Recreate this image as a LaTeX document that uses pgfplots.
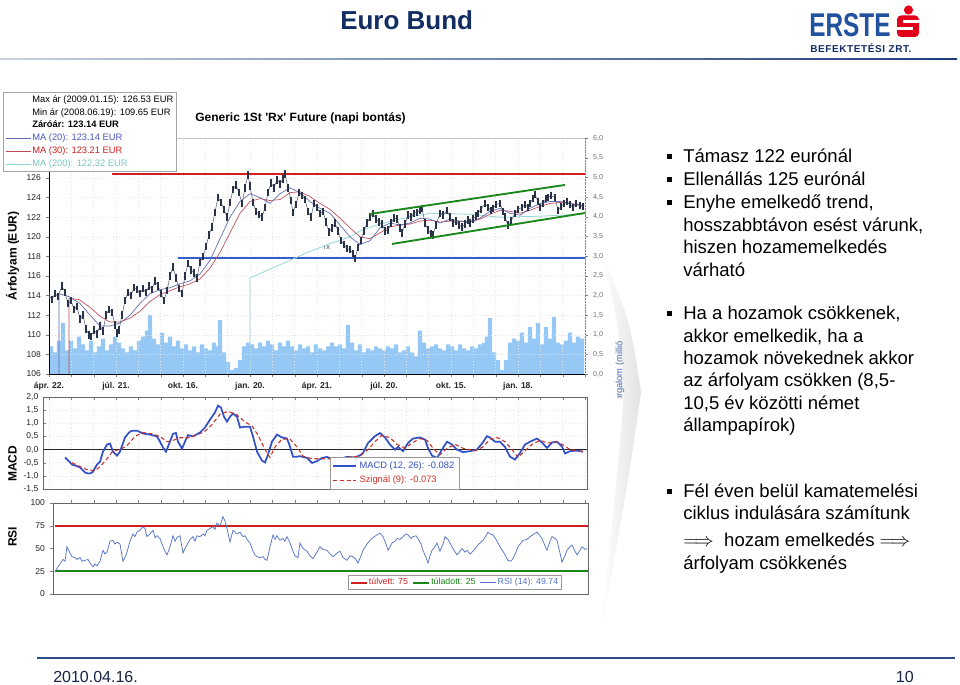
\documentclass[border=0pt]{standalone}
\usepackage{pgfplots}
\pgfplotsset{compat=1.18}
\usepackage{fontspec}
\setmainfont{Liberation Sans}
\definecolor{navy}{RGB}{18,45,98}
\definecolor{erste}{RGB}{32,82,158}
\definecolor{ersteRed}{RGB}{226,0,26}
\definecolor{volblue}{RGB}{150,200,245}
\definecolor{pricecol}{RGB}{40,50,72}
\definecolor{maA}{RGB}{95,105,175}
\definecolor{maB}{RGB}{195,75,85}
\definecolor{maC}{RGB}{150,215,215}
\definecolor{hred}{RGB}{210,30,30}
\definecolor{hblue}{RGB}{50,95,200}
\definecolor{hgreen}{RGB}{25,135,25}
\definecolor{macdblue}{RGB}{50,80,200}
\definecolor{sigred}{RGB}{205,50,40}
\definecolor{rsiblue}{RGB}{85,115,200}
\definecolor{gridc}{RGB}{228,228,228}
\definecolor{footnavy}{RGB}{45,75,135}
\pgfplotsset{
  base/.style={scale only axis,
    /pgf/number format/assume math mode=true,
    tick label style={font=\fontsize{6.4}{7}\selectfont, text=black!85},
    major tick length=2.5pt},
}
\newcommand{\tl}[2]{\node[anchor=base west, inner sep=0, font=\fontsize{13.9}{16}\selectfont] at (683,685-#1) {#2};}
\newcommand{\bul}[1]{\fill (667,685-#1+8.5-5) rectangle (672,685-#1+8.5);}
\begin{document}
\begin{tikzpicture}
\begin{scope}[x=0.75pt,y=0.75pt]
\fill[white] (0,0) rectangle (960,685);
% header
\node[anchor=base west, inner sep=0, font=\bfseries\fontsize{19.5}{20}\selectfont, text=navy] at (340,685-30) {Euro Bund};
\shade[left color={rgb,255:red,200;green,210;blue,222}, right color={rgb,255:red,30;green,60;blue,125}] (0,685-60) rectangle (957,685-58.3);
\node[anchor=base west, inner sep=0, font=\bfseries\fontsize{24.7}{25}\selectfont, text=erste] at (809,685-37) {\scalebox{0.74}[1]{ERSTE}};
\node[anchor=base west, inner sep=0, font=\bfseries\fontsize{7.5}{8}\selectfont\addfontfeature{LetterSpace=6}, text=navy] at (810,685-52.5) {BEFEKTETÉSI ZRT.};
\fill[ersteRed] (908.5,685-10) circle (4.6);
\fill[ersteRed, rounded corners=3] (897,685-37) rectangle (919,685-15.5);
\fill[white] (903,685-23.5) rectangle (919.5,685-20.5);
\fill[white] (896.5,685-30.5) rectangle (913,685-27.5);
% footer
\draw[footnavy, line width=1.6pt] (37,685-658) -- (955,685-658);
\node[anchor=base west, inner sep=0, font=\fontsize{12}{13}\selectfont, text={rgb,255:red,25;green,35;blue,70}] at (53,685-683) {2010.04.16.};
\node[anchor=base east, inner sep=0, font=\fontsize{12}{13}\selectfont, text={rgb,255:red,25;green,35;blue,70}] at (914,685-683) {10};
% decorative shadow
\shade[left color=white, right color=gray!22] (600,685-250) .. controls (630,685-320) .. (641,685-392) .. controls (630,685-470) .. (600,685-640) .. controls (618,685-470) .. (624,685-392) .. controls (618,685-320) .. cycle;
\begin{scope}
\clip (605,685-398) rectangle (635,685-330);
\node[rotate=90, anchor=east, inner sep=0, font=\fontsize{7}{8}\selectfont, text={rgb,255:red,70;green,100;blue,165}] at (620,685-341) {forgalom (millió};
\end{scope}
% top border of price panel
\draw[gray!45, line width=0.4pt] (49,685-138) -- (585,685-138);
% side labels
\node[rotate=90, font=\bfseries\fontsize{9}{10}\selectfont] at (12.5,685-256) {Árfolyam (EUR)};
\node[rotate=90, font=\bfseries\fontsize{9}{10}\selectfont] at (12.5,685-464) {MACD};
\node[rotate=90, font=\bfseries\fontsize{9}{10}\selectfont] at (12.5,685-537) {RSI};
\node[anchor=base west, inner sep=0, font=\bfseries\fontsize{9}{10}\selectfont] at (195,685-122) {Generic 1St \textquotesingle Rx\textquotesingle\ Future (napi bontás)};
\node[font=\fontsize{5.5}{6}\selectfont, text=black!70] at (327,685-248) {rx};
% right-hand text
\bul{163}\tl{163}{Támasz 122 eurónál}
\bul{185.7}\tl{185.7}{Ellenállás 125 eurónál}
\bul{208.4}\tl{208.4}{Enyhe emelkedő trend,}
\tl{231.1}{hosszabbtávon esést várunk,}
\tl{253.8}{hiszen hozamemelkedés}
\tl{276.5}{várható}
\bul{320}\tl{320}{Ha a hozamok csökkenek,}
\tl{342.3}{akkor emelkedik, ha a}
\tl{364.6}{hozamok növekednek akkor}
\tl{386.9}{az árfolyam csökken (8,5-}
\tl{409.2}{10,5 év közötti német}
\tl{431.5}{állampapírok)}
\bul{498}\tl{498}{Fél éven belül kamatemelési}
\tl{520}{ciklus indulására számítunk}
\tl{547}{$\Longrightarrow$\ \ hozam emelkedés $\Longrightarrow$}
\tl{570}{árfolyam csökkenés}
\end{scope}

% ---------------- volume axis ----------------
\begin{axis}[base, anchor=south west, at={(36.75pt,233.25pt)}, width=402pt, height=177pt,
  xmin=49, xmax=585, ymin=0, ymax=6,
  axis x line=none, axis y line*=right,
  ytick={0,0.5,1,1.5,2,2.5,3,3.5,4,4.5,5,5.5,6},
  yticklabels={{0,0},{0,5},{1,0},{1,5},{2,0},{2,5},{3,0},{3,5},{4,0},{4,5},{5,0},{5,5},{6,0}},
  yticklabel style={font=\fontsize{5.4}{6}\selectfont, text=black!55},
  y axis line style={black!50}, ytick style={black!50}, tick align=outside]
\addplot[ybar, bar width=4.1, fill=volblue, draw=none] coordinates {
(51,0.70)(55,0.55)(59,0.85)(63,1.30)(67,0.60)(71,0.85)(75,0.65)(79,0.95)(83,0.75)(87,0.60)
(91,0.85)(95,0.55)(99,0.70)(103,0.90)(107,0.60)(111,0.75)(115,0.95)(119,0.80)(123,0.65)(127,0.55)
(131,0.70)(135,0.60)(139,0.85)(143,0.95)(147,1.10)(150,1.50)(154,0.90)(158,0.75)(162,1.05)(166,0.80)
(170,0.95)(174,0.70)(178,0.85)(182,0.65)(186,0.75)(190,0.60)(194,0.70)(198,0.55)(202,0.75)(206,0.65)
(210,0.60)(214,0.80)(217,0.70)(220,1.37)(224,0.55)(228,0.30)(232,0.10)(236,0.15)(240,0.35)(244,0.70)
(248,0.80)(252,0.75)(256,0.65)(260,0.80)(264,0.70)(268,0.85)(272,0.75)(276,0.60)(280,0.80)(284,0.70)
(288,0.85)(292,0.70)(296,0.60)(300,0.75)(304,0.65)(308,0.70)(312,0.55)(316,0.75)(320,0.65)(324,0.60)
(328,0.70)(332,0.80)(336,0.70)(340,0.75)(344,0.65)(348,1.25)(352,0.80)(356,0.60)(360,0.75)(364,0.55)
(368,0.65)(372,0.60)(376,0.70)(380,0.65)(384,0.60)(388,0.70)(392,0.65)(396,0.75)(400,0.55)(404,0.60)
(408,0.70)(412,0.55)(416,0.45)(420,1.10)(424,0.80)(428,0.65)(432,0.70)(436,0.75)(440,0.65)(444,0.60)
(448,0.75)(452,0.70)(456,0.60)(460,0.75)(464,0.65)(468,0.60)(472,0.70)(476,0.65)(480,0.75)(484,0.80)
(487,0.95)(490,1.42)(494,0.55)(498,0.35)(502,0.10)(506,0.35)(510,0.80)(514,0.90)(518,0.85)(522,1.05)
(526,0.80)(530,1.20)(534,0.90)(538,1.30)(542,0.75)(546,1.20)(550,0.90)(554,1.45)(558,0.80)(562,0.75)
(566,0.85)(570,1.05)(574,0.80)(578,0.95)(582,0.90)};
\end{axis}

% ---------------- price axis ----------------
\begin{axis}[base, anchor=south west, at={(36.75pt,233.25pt)}, width=402pt, height=177pt,
  xmin=49, xmax=585, ymin=106, ymax=130.08,
  axis x line*=bottom, axis y line*=left, tick align=outside,
  ytick={106,108,110,112,114,116,118,120,122,124,126},
  xtick={49,71.33,93.67,116,138.33,160.67,183,205.33,227.67,250,272.33,294.67,317,339.33,361.67,384,406.33,428.67,451,473.33,495.67,518,540.33,562.67,585},
  xticklabels={ápr. 22.,,,júl. 21.,,,okt. 16.,,,jan. 20.,,,ápr. 21.,,,júl. 20.,,,okt. 15.,,,jan. 18.,,,},
  xticklabel style={font=\bfseries\fontsize{6.4}{7}\selectfont},
  grid=major, major grid style={gridc, dotted, line width=0.4pt},
  legend image code/.code={\draw[#1] (0pt,0pt) -- (19pt,0pt);},
  legend style={at={(-0.0858,1.195)}, anchor=north west, draw=black!35, fill=white,
    font=\fontsize{7}{8}\selectfont, row sep=1.2pt, inner sep=1.5pt,
    nodes={inner sep=0.8pt, text height=5.3pt, text depth=1.5pt}},
  legend cell align=left]
\addlegendimage{empty legend}\addlegendentry{Max ár (2009.01.15): 126.53 EUR}
\addlegendimage{empty legend}\addlegendentry{Min ár (2008.06.19): 109.65 EUR}
\addlegendimage{empty legend}\addlegendentry{\textbf{Záróár: 123.14 EUR}}
\addlegendimage{maA, line width=0.5pt}\addlegendentry{\textcolor{maA!80!blue}{MA (20): 123.14 EUR}}
\addlegendimage{maB, line width=0.5pt}\addlegendentry{\textcolor{hred}{MA (30): 123.21 EUR}}
\addlegendimage{maC, line width=0.5pt}\addlegendentry{\textcolor{maC!80!teal}{MA (200): 122.32 EUR}}
\addplot[hred, line width=1.5pt, forget plot] coordinates {(112,126.41)(585,126.41)};
\addplot[hblue, line width=1.2pt, forget plot] coordinates {(178,117.84)(585,117.84)};
\addplot[maC, line width=0.6pt, forget plot] coordinates {(250,106)(250,115.8)(270,116.7)(290,117.6)(310,118.5)(330,119.3)(350,120.0)(360,120.6)(380,121.3)(400,121.8)(430,122.4)(470,122.3)(500,122.0)(540,122.1)(583,122.32)};
\addplot[maB, line width=0.5pt, forget plot] coordinates {(69,106)(69,113.7)(79,113.6)(90,112.8)(100,111.9)(110,111.3)(120,111.3)(130,111.7)(140,112.4)(150,113.4)(160,114.1)(170,114.5)(180,114.9)(190,115.2)(200,115.7)(210,116.8)(220,118.4)(230,120.4)(240,122.4)(250,123.6)(260,123.9)(270,123.7)(280,123.8)(290,124.5)(300,124.6)(310,124.1)(320,123.4)(330,122.8)(340,121.9)(350,120.9)(360,120.0)(370,119.8)(380,120.4)(390,121.0)(400,121.2)(410,121.3)(420,121.6)(430,121.7)(440,121.5)(450,121.6)(460,121.6)(470,121.5)(480,121.8)(490,122.3)(500,122.7)(510,122.6)(520,122.4)(530,122.7)(540,123.1)(550,123.4)(560,123.5)(570,123.4)(583,123.21)};
\addplot[maA, line width=0.5pt, forget plot] coordinates {(59,106)(59,114.2)(69,113.9)(80,113.2)(90,112.0)(100,110.9)(110,110.9)(120,111.2)(130,112.0)(140,113.2)(150,114.2)(160,114.6)(170,114.8)(180,115.2)(190,115.5)(200,116.2)(210,117.6)(220,119.8)(230,122.0)(240,123.6)(250,124.4)(260,124.0)(270,123.4)(280,124.4)(290,125.0)(300,124.5)(310,123.6)(320,122.9)(330,122.4)(340,121.2)(350,120.0)(360,119.2)(370,119.6)(380,120.9)(390,121.4)(400,121.2)(410,121.4)(420,121.9)(430,121.8)(440,121.4)(450,121.8)(460,121.6)(470,121.5)(480,121.9)(490,122.6)(500,122.9)(510,122.4)(520,122.2)(530,122.9)(540,123.4)(550,123.6)(560,123.6)(570,123.4)(583,123.14)};
\addplot[pricecol!70, line width=0.45pt, forget plot,
  error bars/.cd, y dir=both, y fixed=0.38, error mark=none,
  error bar style={pricecol, line width=0.85pt}] coordinates {
(49,114.0)(52,113.6)(55,114.2)(58,113.9)(62,115.0)(65,114.3)(68,113.2)(71,113.5)(74,112.6)(77,112.9)
(80,111.6)(83,112.0)(86,110.6)(89,110.0)(91,109.8)(94,110.5)(97,110.1)(100,110.9)(103,110.4)(106,112.0)
(109,112.6)(112,112.3)(115,111.0)(117,110.2)(119,110.5)(122,112.0)(125,113.5)(128,114.3)(131,114.0)(134,114.8)
(137,114.6)(140,114.2)(143,114.7)(146,114.3)(149,115.0)(152,114.6)(155,115.5)(158,115.0)(161,114.2)(164,113.5)
(167,114.5)(170,116.0)(173,116.9)(176,115.8)(179,114.7)(182,114.2)(185,116.0)(188,117.3)(191,116.6)(194,116.3)
(197,115.8)(200,117.4)(203,118.0)(206,119.0)(209,120.2)(212,121.0)(215,122.5)(218,124.0)(221,123.5)(224,122.8)
(227,122.0)(230,123.5)(233,124.8)(236,125.3)(239,124.5)(242,123.4)(245,125.0)(248,126.3)(250,125.2)(253,123.5)
(256,122.6)(259,122.3)(262,122.0)(265,123.0)(268,124.5)(271,125.5)(274,125.0)(277,125.8)(280,125.4)(283,125.9)
(285,126.4)(288,125.0)(291,123.7)(293,122.5)(296,123.3)(299,124.5)(302,124.2)(305,123.8)(308,122.6)(311,122.0)
(314,123.4)(317,123.0)(320,122.4)(323,122.6)(326,121.5)(329,120.5)(332,120.9)(335,121.4)(338,120.6)(341,119.6)
(344,119.2)(347,118.8)(350,118.7)(353,118.3)(355,117.8)(358,118.9)(361,119.6)(364,120.6)(367,121.4)(370,122.0)
(373,122.4)(376,121.8)(379,121.5)(382,121.3)(385,120.6)(388,120.7)(391,121.4)(394,121.9)(397,121.8)(400,120.9)
(402,120.4)(405,121.3)(408,122.2)(411,122.0)(414,122.4)(417,122.5)(420,122.7)(422,122.9)(425,121.4)(428,120.7)
(431,120.3)(433,120.2)(436,121.2)(440,122.4)(443,122.2)(447,122.7)(450,122.0)(453,121.4)(456,121.6)(459,121.2)
(462,121.0)(465,121.3)(468,121.7)(470,121.4)(473,121.8)(476,122.1)(478,122.4)(481,122.8)(485,123.4)(488,123.0)
(491,122.7)(493,122.9)(496,123.3)(500,123.4)(503,122.6)(505,122.0)(508,121.2)(511,121.6)(515,122.4)(518,122.8)
(522,123.0)(525,123.3)(528,123.0)(530,123.4)(533,123.9)(535,124.3)(538,123.6)(540,123.0)(543,123.4)(546,123.9)
(548,124.0)(551,124.2)(555,124.0)(558,122.7)(561,123.1)(564,123.4)(567,123.6)(570,123.3)(573,123.0)(576,123.4)
(580,123.2)(583,123.1)};
\addplot[hgreen, line width=1.4pt, forget plot] coordinates {(370,122.33)(565,125.29)};
\addplot[hgreen, line width=1.4pt, forget plot] coordinates {(392,119.27)(585,122.43)};
\end{axis}

% ---------------- MACD axis ----------------
\begin{axis}[base, anchor=south west, at={(32.25pt,147pt)}, width=408pt, height=69pt,
  xmin=43, xmax=587, ymin=-1.5, ymax=2,
  axis line style={black!60},
  ytick={-1.5,-1,-0.5,0,0.5,1,1.5,2},
  yticklabels={{-1,5},{-1,0},{-0,5},{0,0},{0,5},{1,0},{1,5},{2,0}},
  ytick pos=left,
  xtick={49,71.33,93.67,116,138.33,160.67,183,205.33,227.67,250,272.33,294.67,317,339.33,361.67,384,406.33,428.67,451,473.33,495.67,518,540.33,562.67,585},
  xticklabels={}, xtick pos=upper, tick align=inside,
  grid=major, major grid style={gridc, dotted, line width=0.4pt},
  legend image code/.code={\draw[#1] (0pt,0pt) -- (17pt,0pt);},
  legend style={at={(0.528,0.348)}, anchor=north west, draw=black!40, fill=white,
    font=\fontsize{7}{8}\selectfont, inner sep=1.5pt},
  legend cell align=left]
\addplot[black!85, line width=0.7pt, forget plot] coordinates {(43,0)(587,0)};
\addplot[macdblue, line width=1.3pt] coordinates {
(65,-0.30)(69,-0.45)(72,-0.57)(76,-0.62)(80,-0.68)(85,-0.87)(88,-0.91)(91,-0.90)(93,-0.84)(97,-0.57)
(100,-0.46)(103,-0.08)(107,0.19)(110,0.23)(113,-0.08)(117,-0.23)(120,-0.08)(125,0.46)(129,0.65)(132,0.72)
(137,0.72)(143,0.61)(150,0.57)(157,0.50)(160,0.30)(163,0.08)(166,-0.08)(168,0.11)(173,0.60)(176,0.63)
(178,0.30)(182,0.04)(185,0.30)(188,0.55)(193,0.50)(200,0.65)(205,0.84)(210,1.14)(215,1.41)(218,1.67)
(221,1.60)(224,1.25)(227,1.06)(230,1.25)(233,1.37)(237,1.25)(240,0.84)(245,0.87)(250,0.87)(253,0.50)
(257,-0.08)(262,-0.42)(265,-0.49)(268,-0.19)(272,0.30)(277,0.57)(282,0.46)(287,0.42)(290,0.11)(293,-0.27)
(297,-0.27)(300,-0.25)(307,-0.32)(312,-0.51)(317,-0.44)(322,-0.32)(327,-0.28)(333,-0.38)(340,-0.35)(347,-0.28)
(355,-0.30)(360,-0.22)(363,-0.13)(368,0.25)(375,0.51)(380,0.63)(385,0.46)(390,0.19)(395,0.00)(398,0.10)
(403,-0.06)(408,0.25)(413,0.42)(420,0.46)(425,0.38)(428,0.06)(432,-0.23)(437,-0.32)(442,0.00)(447,0.30)
(452,0.19)(457,0.00)(463,-0.10)(470,-0.06)(477,0.00)(482,0.23)(487,0.51)(490,0.46)(495,0.30)(500,0.30)
(505,0.10)(510,-0.27)(515,-0.38)(520,-0.13)(525,0.19)(530,0.30)(537,0.42)(542,0.27)(547,0.06)(552,0.27)
(557,0.30)(562,0.11)(565,-0.15)(570,-0.06)(577,-0.04)(583,-0.08)};
\addlegendentry{\textcolor{macdblue}{MACD (12, 26): -0.082}}
\addplot[sigred, line width=0.8pt, dash pattern=on 3pt off 2pt] coordinates {
(72,-0.50)(80,-0.65)(88,-0.78)(95,-0.80)(100,-0.65)(107,-0.35)(113,-0.05)(120,0.00)(127,0.15)(135,0.50)
(143,0.65)(152,0.60)(160,0.50)(167,0.30)(173,0.35)(180,0.45)(188,0.45)(197,0.55)(205,0.70)(212,0.95)
(220,1.35)(228,1.45)(236,1.35)(245,1.05)(252,0.90)(258,0.55)(265,0.00)(270,-0.30)(275,0.10)(282,0.40)
(290,0.40)(297,0.10)(303,-0.25)(312,-0.35)(322,-0.35)(330,-0.35)(345,-0.30)(360,-0.25)(368,0.00)(375,0.30)
(382,0.55)(390,0.45)(397,0.20)(405,0.05)(412,0.25)(420,0.42)(427,0.35)(433,0.05)(440,-0.20)(447,0.05)
(455,0.20)(463,0.05)(475,-0.05)(483,0.10)(490,0.40)(498,0.45)(505,0.30)(512,0.00)(518,-0.30)(525,-0.05)
(532,0.20)(540,0.35)(548,0.25)(556,0.30)(562,0.20)(570,0.00)(578,-0.05)(583,-0.07)};
\addlegendentry{\textcolor{sigred}{Szignál (9): -0.073}}
\end{axis}

% ---------------- RSI axis ----------------
\begin{axis}[base, anchor=south west, at={(39.75pt,68.25pt)}, width=401.25pt, height=68.25pt,
  xmin=53, xmax=588, ymin=0, ymax=100,
  axis line style={black!60},
  ytick={0,25,50,75,100}, ytick pos=left,
  xtick={71.33,93.67,116,138.33,160.67,183,205.33,227.67,250,272.33,294.67,317,339.33,361.67,384,406.33,428.67,451,473.33,495.67,518,540.33,562.67,585},
  xticklabels={}, xtick pos=upper, tick align=outside,
  legend columns=3,
  legend image code/.code={\draw[#1] (0pt,0pt) -- (12pt,0pt);},
  legend style={at={(0.551,0.044)}, anchor=south west, draw=black!40, fill=white,
    font=\fontsize{6.6}{7.5}\selectfont, inner sep=1.2pt,
    nodes={inner sep=1pt},
    /tikz/every even column/.append style={column sep=2pt}}]
\addplot[hred, line width=1.5pt] coordinates {(55,75)(588,75)};
\addlegendentry{\textcolor{hred}{túlvett: 75}}
\addplot[hgreen, line width=1.5pt] coordinates {(55,25)(588,25)};
\addlegendentry{\textcolor{hgreen}{túladott: 25}}
\addplot[rsiblue, line width=0.55pt] coordinates {
(55,24)(58,30)(60,33)(63,38)(65,36)(67,52)(70,45)(72,41)(75,40)(77,38)(80,40)(82,36)(85,37)(88,38)(90,34)
(93,30)(95,33)(97,31)(100,36)(103,48)(105,44)(107,46)(110,58)(113,59)(115,55)(117,57)(120,55)(122,42)(123,36)
(125,40)(127,46)(130,58)(133,66)(135,63)(137,68)(140,70)(143,74)(145,72)(147,63)(150,66)(153,70)(155,62)
(157,64)(160,61)(163,52)(165,47)(167,43)(170,52)(173,64)(175,58)(177,62)(180,64)(183,45)(185,50)(187,54)
(190,60)(193,63)(195,58)(197,64)(200,63)(203,66)(205,64)(207,70)(210,72)(213,74)(215,71)(217,78)(220,75)
(223,85)(225,80)(227,72)(230,57)(233,70)(235,68)(237,66)(240,68)(243,63)(245,64)(247,60)(250,56)(253,47)
(255,43)(257,41)(260,40)(263,41)(265,38)(267,37)(270,52)(273,65)(275,60)(277,64)(280,59)(283,61)(285,58)
(287,63)(290,56)(293,47)(295,42)(298,40)(300,56)(303,50)(307,47)(310,42)(313,39)(317,46)(320,52)(323,49)
(327,48)(330,44)(333,41)(337,45)(340,47)(343,40)(347,37)(350,42)(353,41)(356,38)(358,34)(361,42)(363,48)
(367,55)(370,59)(373,62)(377,65)(380,67)(383,63)(386,55)(388,48)(390,52)(392,56)(395,58)(397,61)(400,60)
(403,63)(406,66)(408,65)(411,61)(413,63)(416,64)(418,61)(421,55)(423,48)(426,40)(428,34)(430,42)(432,48)
(435,52)(437,56)(440,47)(443,55)(445,63)(448,60)(450,56)(454,48)(457,43)(460,47)(462,50)(465,46)(467,48)
(470,44)(473,47)(476,51)(478,54)(481,57)(483,59)(486,64)(488,68)(490,66)(493,65)(496,60)(498,56)(501,50)
(503,47)(506,41)(508,37)(511,36)(513,39)(516,46)(518,52)(521,56)(523,59)(527,60)(530,63)(534,66)(537,68)
(540,64)(542,61)(545,53)(547,48)(550,58)(552,63)(555,61)(557,59)(560,45)(562,35)(565,42)(567,48)(570,52)
(572,54)(575,47)(577,43)(580,48)(582,52)(585,49)(587,50)};
\addlegendentry{\textcolor{rsiblue}{RSI (14): 49.74}}
\end{axis}
\path[use as bounding box] (0,0) rectangle (720pt,513.75pt);
\end{tikzpicture}
\end{document}
